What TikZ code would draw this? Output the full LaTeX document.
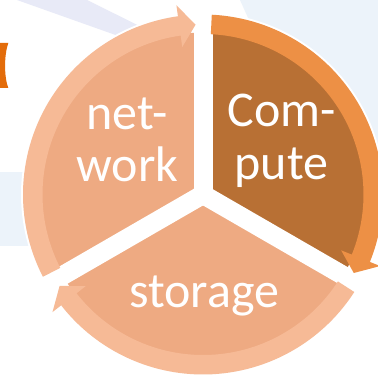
\documentclass[tikz,border=0pt]{standalone}
\usepackage{fontspec}
\setmainfont{Carlito}
\definecolor{pieLight}{RGB}{238,170,130}
\definecolor{ringLight}{RGB}{246,186,150}
\definecolor{pieDark}{RGB}{184,112,52}
\definecolor{ringDark}{RGB}{237,144,69}
\definecolor{bracketOrange}{RGB}{227,108,10}
\definecolor{bgLavender}{RGB}{232,234,247}
\definecolor{bgBlue}{RGB}{236,243,250}
\tikzset{
  segtext/.style={text=white, inner sep=0pt, anchor=base, font=\fontsize{50}{53}\selectfont},
  ringarrow/.style={draw=none},
  halo/.style={draw=white, line width=2pt},
  gapline/.style={draw=white, line width=19pt},
}
\newcommand{\ringarrowpath}[4]{%
  \path[ringarrow, fill=#4] (#1:180) arc[start angle=#1, end angle=#2, radius=180]
    -- (#2:191) -- (#3:170) -- (#2:149) -- (#2:160.5)
    arc[start angle=#2, end angle=#1, radius=160.5] -- cycle;}
\begin{document}
\begin{tikzpicture}[x=1pt,y=1pt]
\useasboundingbox (0,0) rectangle (378,378);
\fill[white] (0,0) rectangle (378,378);
% background
\fill[bgLavender] (17,378) -- (87,378) -- (200,322) -- (200,313) -- cycle;
\fill[bgBlue] (240,378) -- (378,378) -- (378,163) -- (330,178) -- cycle;
\fill[bgBlue] (0,206) -- (45,206) -- (45,132) -- (0,132) -- cycle;
% bracket
\fill[bracketOrange] (0,335) -- (8.3,335) .. controls (4,323) and (4,301) .. (8.3,290) -- (0,290) -- cycle;
\coordinate (C) at (203,183.5);
\begin{scope}[shift={(C)}]
  % pies
  \fill[pieLight] (0,0) -- (90:162) arc[start angle=90, end angle=210, radius=162] -- cycle;
  \fill[pieDark] (0,0) -- (-30:162) arc[start angle=-30, end angle=90, radius=162] -- cycle;
  \fill[pieLight] (0,0) -- (210:162) arc[start angle=210, end angle=330, radius=162] -- cycle;
  % gaps
  \draw[gapline] (0,0) -- (90:165);
  \draw[gapline] (0,0) -- (210:165);
  \draw[gapline] (0,0) -- (330:165);
  \fill[white] (0,0) circle (11);
  % halo outside the rings
  \draw[halo] (87.2:181) arc[start angle=87.2, end angle=-22, radius=181];
  \draw[halo] (207.2:181) arc[start angle=207.2, end angle=98, radius=181];
  % ring arrows
  \ringarrowpath{207.2}{98}{92.5}{ringLight}
  \ringarrowpath{87.2}{-22}{-27.5}{ringDark}
  \ringarrowpath{-32.8}{-142}{-147.5}{ringLight}
\end{scope}
% texts
\node[segtext] (net1) at (127,248) {net-};
\node[segtext] (net2) at (127.5,196) {work};
\node[segtext] (com1) at (281.5,251) {Com-};
\node[segtext] (com2) at (281.5,198) {pute};
\node[segtext] (sto) at (204,70) {storage};
\end{tikzpicture}
\end{document}
